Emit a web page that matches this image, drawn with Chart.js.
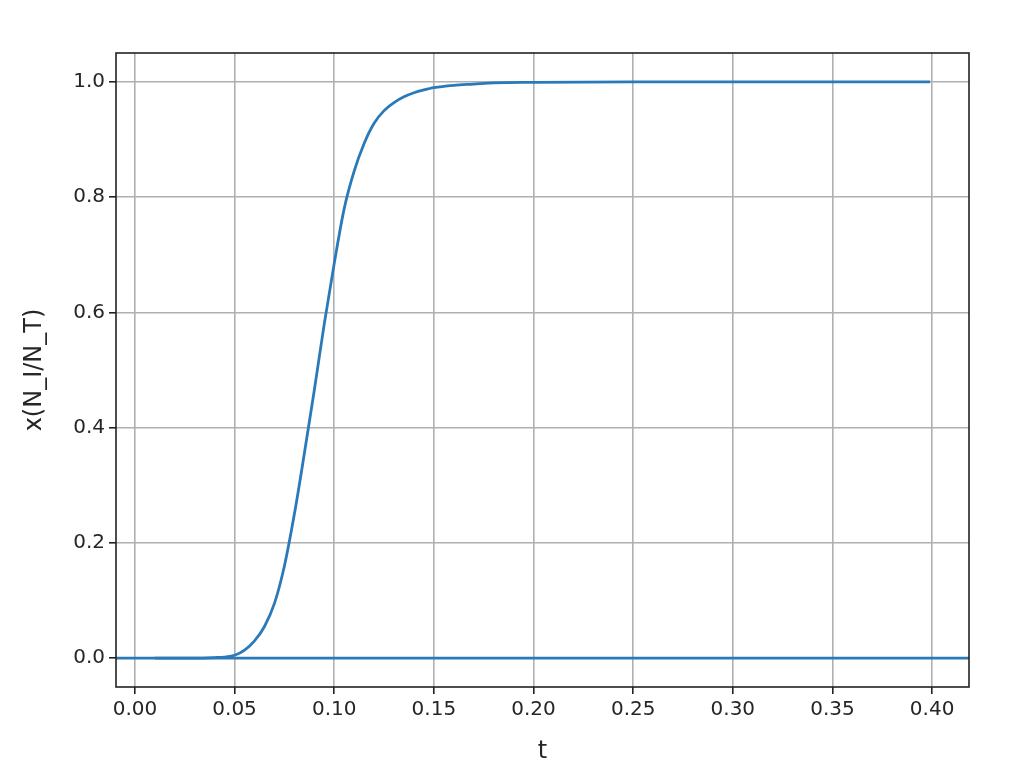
<!DOCTYPE html>
<html>
<head>
<meta charset="utf-8">
<script src="https://cdn.jsdelivr.net/npm/chart.js@4"></script>
<style>
  html, body { margin: 0; padding: 0; background: #fff; }
  #wrap { width: 1028px; height: 766px; }
</style>
</head>
<body>
<div id="wrap"><canvas id="curveChart" width="1028" height="766"></canvas></div>
<script>
// values
const tValues = [0.010, 0.020, 0.030, 0.040, 0.045, 0.050, 0.055, 0.060, 0.065, 0.070,
                 0.075, 0.080, 0.085, 0.090, 0.095, 0.100, 0.105, 0.110, 0.115, 0.120,
                 0.125, 0.130, 0.135, 0.140, 0.145, 0.150, 0.160, 0.170, 0.180, 0.200,
                 0.250, 0.300, 0.350, 0.399];
const xValues = [0.000, 0.000, 0.000, 0.001, 0.002, 0.005, 0.014, 0.030, 0.055, 0.095,
                 0.160, 0.250, 0.355, 0.465, 0.580, 0.685, 0.780, 0.845, 0.893, 0.928,
                 0.950, 0.964, 0.974, 0.981, 0.986, 0.990, 0.994, 0.996, 0.998, 0.999,
                 1.000, 1.000, 1.000, 1.000];
// horizontal line at zero across the whole axis
const zeroLineT = [-0.0095, 0.4185];
const zeroLineX = [0, 0];

const xTicks = [0.00, 0.05, 0.10, 0.15, 0.20, 0.25, 0.30, 0.35, 0.40];
const yTicks = [0.0, 0.2, 0.4, 0.6, 0.8, 1.0];

const lineColor = '#2a79b9';
const textColor = '#262626';

// matplotlib-like box around the plot area
const frameBox = {
    id: 'frameBox',
    afterDatasetsDraw(chart) {
        const { ctx, chartArea } = chart;
        ctx.save();
        ctx.strokeStyle = '#222';
        ctx.lineWidth = 1.6;
        ctx.strokeRect(chartArea.left, chartArea.top,
                       chartArea.right - chartArea.left, chartArea.bottom - chartArea.top);
        ctx.restore();
    }
};

const ctx = document.getElementById('curveChart').getContext('2d');
new Chart(ctx, {
    type: 'scatter',
    data: {
        datasets: [
            {
                data: tValues.map((t, i) => ({ x: t, y: xValues[i] })),
                showLine: true,
                borderColor: lineColor,
                borderWidth: 2.8,
                pointRadius: 0,
                cubicInterpolationMode: 'monotone',
            },
            {
                data: zeroLineT.map((t, i) => ({ x: t, y: zeroLineX[i] })),
                showLine: true,
                borderColor: lineColor,
                borderWidth: 2.8,
                pointRadius: 0,
            },
        ],
    },
    options: {
        responsive: false,
        animation: false,
        layout: { padding: { top: 53, right: 59, left: 0, bottom: 0 } },
        plugins: {
            legend: { display: false },
            tooltip: { enabled: false },
        },
        scales: {
            x: {
                type: 'linear',
                min: -0.0095,
                max: 0.4185,
                afterBuildTicks: (axis) => { axis.ticks = xTicks.map((v) => ({ value: v })); },
                afterFit: (axis) => { axis.height = 79; },
                grid: { color: '#b0b0b0', lineWidth: 1.6, tickColor: '#222', tickLength: 7 },
                border: { display: false },
                ticks: {
                    padding: 4,
                    color: textColor,
                    font: { family: 'DejaVu Sans', size: 20 },
                    maxRotation: 0,
                    callback: (v) => v.toFixed(2),
                },
                title: {
                    display: true,
                    text: 't',
                    color: textColor,
                    font: { family: 'DejaVu Sans', size: 24 },
                    padding: { top: 6, bottom: 0 },
                },
            },
            y: {
                min: -0.05,
                max: 1.05,
                afterBuildTicks: (axis) => { axis.ticks = yTicks.map((v) => ({ value: v })); },
                afterFit: (axis) => { axis.width = 116; },
                grid: { color: '#b0b0b0', lineWidth: 1.6, tickColor: '#222', tickLength: 7 },
                border: { display: false },
                ticks: {
                    padding: 4,
                    color: textColor,
                    font: { family: 'DejaVu Sans', size: 20 },
                    callback: (v) => v.toFixed(1),
                },
                title: {
                    display: true,
                    text: 'x(N_I/N_T)',
                    color: textColor,
                    font: { family: 'DejaVu Sans', size: 24 },
                    padding: { top: 20, bottom: 0 },
                },
            },
        },
    },
    plugins: [frameBox],
});
</script>
</body>
</html>
